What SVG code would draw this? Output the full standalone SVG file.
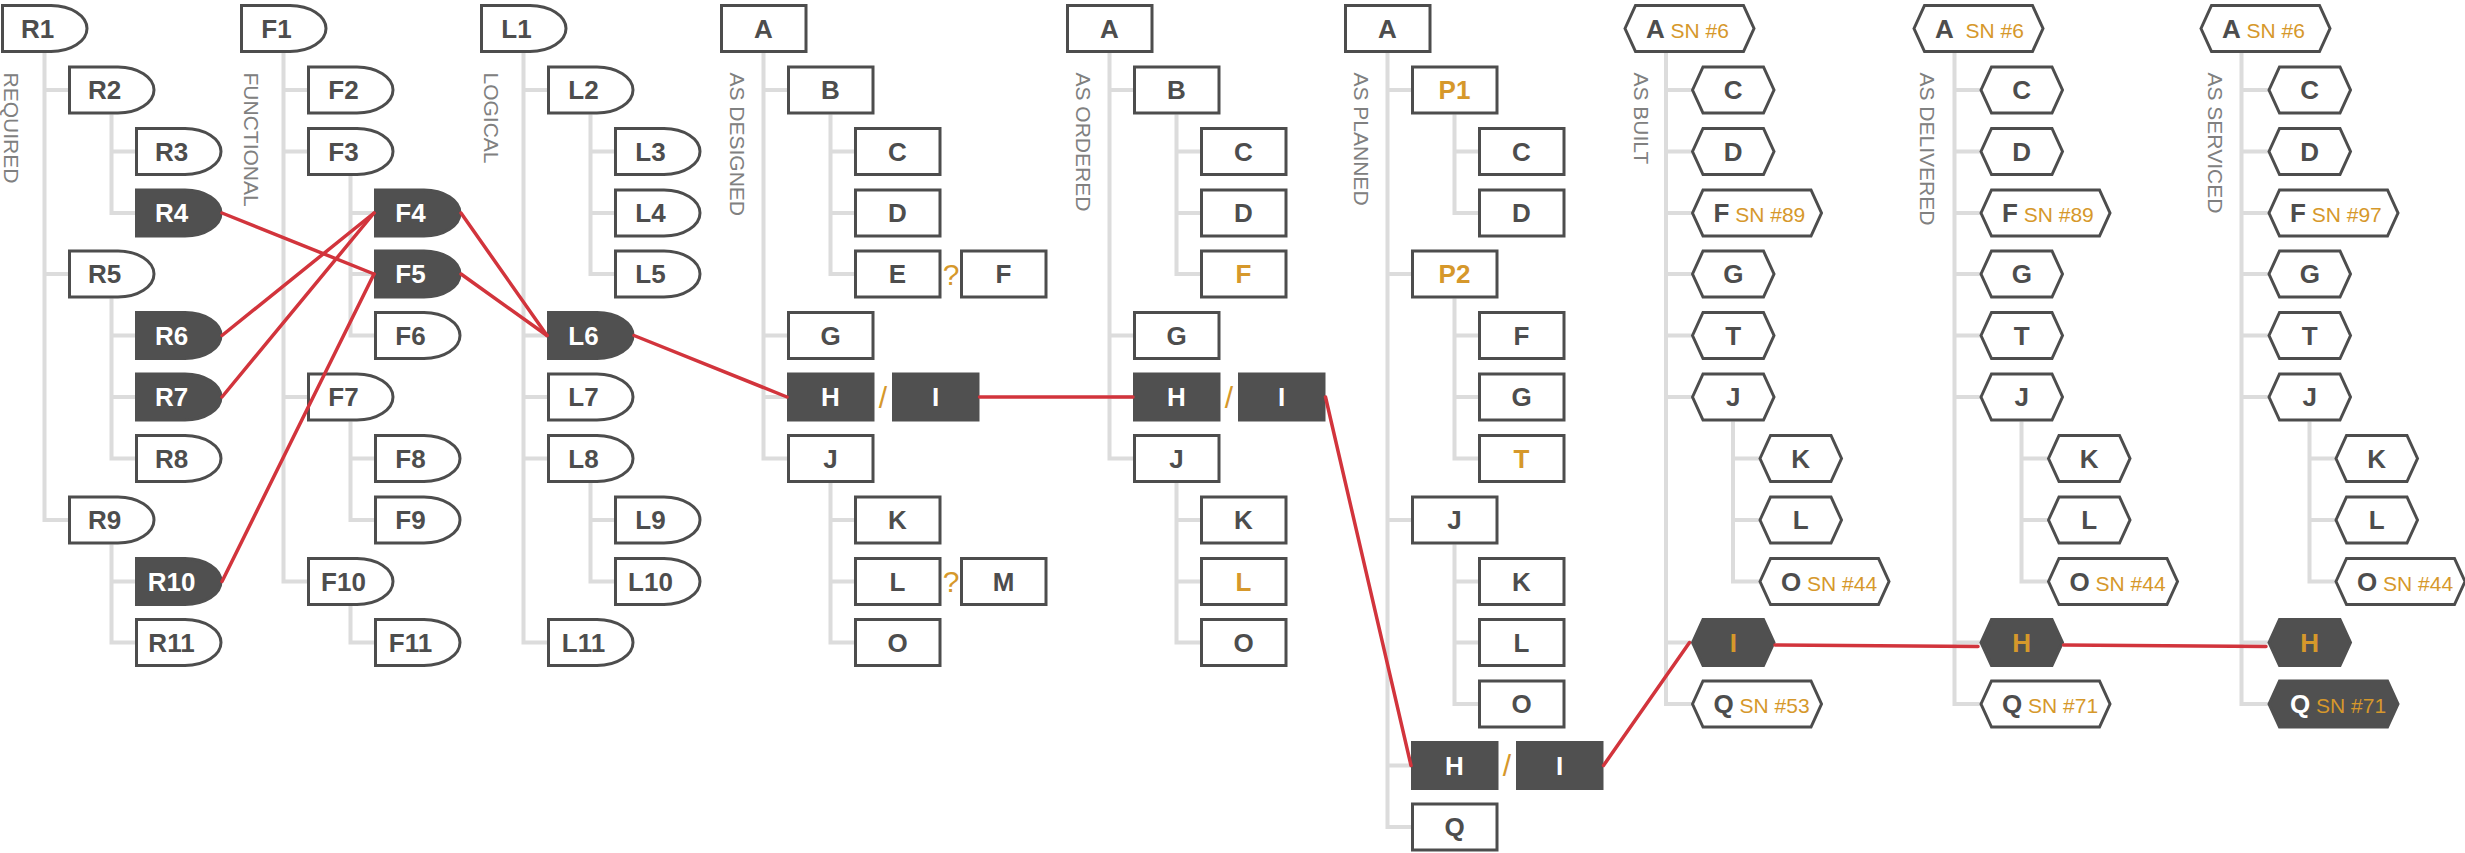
<svg xmlns="http://www.w3.org/2000/svg" width="2465" height="853" viewBox="0 0 2465 853">
<style>
.n{fill:#fff;stroke:#4d4d4d;stroke-width:3}
.d{fill:#505050;stroke:#505050;stroke-width:3}
.t{font-family:"Liberation Sans",Arial,sans-serif;font-weight:bold;font-size:26px;fill:#4d4d4d;text-anchor:middle}
.s{text-anchor:start}
.w{fill:#fff}
.o{fill:#d6982b}
.sn{font-weight:normal;font-size:21px;fill:#d6982b}
.q{font-family:"Liberation Sans",Arial,sans-serif;font-size:30px;fill:#d6982b;text-anchor:middle}
.lab{font-family:"Liberation Sans",Arial,sans-serif;font-size:21px;fill:#808080}
.tree{fill:none;stroke:#dcdcdc;stroke-width:4}
.red{fill:none;stroke:#d2343c;stroke-width:3.5;stroke-linecap:round}
</style>
<defs>
<path id="dsh" d="M1.5,-23H50A36,23 0 0 1 50,23H1.5Z"/>
<rect id="box" x="1.5" y="-23" width="84.5" height="46"/>
<polygon id="hx" points="3,0 13.5,-23 74,-23 84.5,0 74,23 13.5,23"/>
<polygon id="hxw" points="3,0 13.5,-23 121.5,-23 132,0 121.5,23 13.5,23"/>
</defs>

<g id="tree" class="tree">
<path d="M44.5,53V520H70M44.5,90H70M44.5,274H70M111.5,114.5V213H137M111.5,151.5H137M111.5,298.5V458.5H137M111.5,335.5H137M111.5,397H137M111.5,544.5V642.5H137M111.5,581.5H137"/>
<path d="M283.5,53V581.5H309M283.5,90H309M283.5,151.5H309M283.5,397H309M350.5,176V335.5H376M350.5,213H376M350.5,274H376M350.5,421.5V520H376M350.5,458.5H376M350.5,606V642.5H376"/>
<path d="M523.5,53V642.5H549M523.5,90H549M523.5,335.5H549M523.5,397H549M523.5,458.5H549M590.5,114.5V274H616M590.5,151.5H616M590.5,213H616M590.5,483V581.5H616M590.5,520H616"/>
<path d="M763.5,53V458.5H789M763.5,90H789M763.5,335.5H789M763.5,397H789M830.5,114.5V274H856M830.5,151.5H856M830.5,213H856M830.5,483V642.5H856M830.5,520H856M830.5,581.5H856"/>
<path d="M1109.5,53V458.5H1135M1109.5,90H1135M1109.5,335.5H1135M1109.5,397H1135M1176.5,114.5V274H1202M1176.5,151.5H1202M1176.5,213H1202M1176.5,483V642.5H1202M1176.5,520H1202M1176.5,581.5H1202"/>
<path d="M1387.5,53V827H1413M1387.5,90H1413M1387.5,274H1413M1387.5,520H1413M1387.5,765.5H1413M1454.5,114.5V213H1480M1454.5,151.5H1480M1454.5,298.5V458.5H1480M1454.5,335.5H1480M1454.5,397H1480M1454.5,544.5V704H1480M1454.5,581.5H1480M1454.5,642.5H1480"/>
<path d="M1666,53V704H1692M1666,90H1692M1666,151.5H1692M1666,213H1692M1666,274H1692M1666,335.5H1692M1666,397H1692M1666,642.5H1692M1733,421.5V581.5H1760M1733,458.5H1760M1733,520H1760"/>
<path d="M1954.5,53V704H1981M1954.5,90H1981M1954.5,151.5H1981M1954.5,213H1981M1954.5,274H1981M1954.5,335.5H1981M1954.5,397H1981M1954.5,642.5H1981M2021.5,421.5V581.5H2048M2021.5,458.5H2048M2021.5,520H2048"/>
<path d="M2241.5,53V704H2269M2241.5,90H2269M2241.5,151.5H2269M2241.5,213H2269M2241.5,274H2269M2241.5,335.5H2269M2241.5,397H2269M2241.5,642.5H2269M2309.5,421.5V581.5H2336M2309.5,458.5H2336M2309.5,520H2336"/>
</g>

<g id="labels" class="lab">
<text transform="translate(4,72.5) rotate(90)">REQUIRED</text>
<text transform="translate(244,72.5) rotate(90)">FUNCTIONAL</text>
<text transform="translate(484,72.5) rotate(90)">LOGICAL</text>
<text transform="translate(730,72.5) rotate(90)">AS DESIGNED</text>
<text transform="translate(1076,72.5) rotate(90)">AS ORDERED</text>
<text transform="translate(1354,72.5) rotate(90)">AS PLANNED</text>
<text transform="translate(1634,72.5) rotate(90)">AS BUILT</text>
<text transform="translate(1920,72.5) rotate(90)">AS DELIVERED</text>
<text transform="translate(2208,72.5) rotate(90)">AS SERVICED</text>
</g>

<!-- REQUIRED -->
<g id="R1" transform="translate(1,28.5)"><use href="#dsh" class="n"/><text class="t" x="36.5" y="9">R1</text></g>
<g id="R2" transform="translate(68,90)"><use href="#dsh" class="n"/><text class="t" x="36.5" y="9">R2</text></g>
<g id="R3" transform="translate(135,151.5)"><use href="#dsh" class="n"/><text class="t" x="36.5" y="9">R3</text></g>
<g id="R4" transform="translate(135,213)"><use href="#dsh" class="d"/><text class="t w" x="36.5" y="9">R4</text></g>
<g id="R5" transform="translate(68,274)"><use href="#dsh" class="n"/><text class="t" x="36.5" y="9">R5</text></g>
<g id="R6" transform="translate(135,335.5)"><use href="#dsh" class="d"/><text class="t w" x="36.5" y="9">R6</text></g>
<g id="R7" transform="translate(135,397)"><use href="#dsh" class="d"/><text class="t w" x="36.5" y="9">R7</text></g>
<g id="R8" transform="translate(135,458.5)"><use href="#dsh" class="n"/><text class="t" x="36.5" y="9">R8</text></g>
<g id="R9" transform="translate(68,520)"><use href="#dsh" class="n"/><text class="t" x="36.5" y="9">R9</text></g>
<g id="R10" transform="translate(135,581.5)"><use href="#dsh" class="d"/><text class="t w" x="36.5" y="9">R10</text></g>
<g id="R11" transform="translate(135,642.5)"><use href="#dsh" class="n"/><text class="t" x="36.5" y="9">R11</text></g>

<!-- FUNCTIONAL -->
<g id="F1" transform="translate(240,28.5)"><use href="#dsh" class="n"/><text class="t" x="36.5" y="9">F1</text></g>
<g id="F2" transform="translate(307,90)"><use href="#dsh" class="n"/><text class="t" x="36.5" y="9">F2</text></g>
<g id="F3" transform="translate(307,151.5)"><use href="#dsh" class="n"/><text class="t" x="36.5" y="9">F3</text></g>
<g id="F4" transform="translate(374,213)"><use href="#dsh" class="d"/><text class="t w" x="36.5" y="9">F4</text></g>
<g id="F5" transform="translate(374,274)"><use href="#dsh" class="d"/><text class="t w" x="36.5" y="9">F5</text></g>
<g id="F6" transform="translate(374,335.5)"><use href="#dsh" class="n"/><text class="t" x="36.5" y="9">F6</text></g>
<g id="F7" transform="translate(307,397)"><use href="#dsh" class="n"/><text class="t" x="36.5" y="9">F7</text></g>
<g id="F8" transform="translate(374,458.5)"><use href="#dsh" class="n"/><text class="t" x="36.5" y="9">F8</text></g>
<g id="F9" transform="translate(374,520)"><use href="#dsh" class="n"/><text class="t" x="36.5" y="9">F9</text></g>
<g id="F10" transform="translate(307,581.5)"><use href="#dsh" class="n"/><text class="t" x="36.5" y="9">F10</text></g>
<g id="F11" transform="translate(374,642.5)"><use href="#dsh" class="n"/><text class="t" x="36.5" y="9">F11</text></g>

<!-- LOGICAL -->
<g id="L1" transform="translate(480,28.5)"><use href="#dsh" class="n"/><text class="t" x="36.5" y="9">L1</text></g>
<g id="L2" transform="translate(547,90)"><use href="#dsh" class="n"/><text class="t" x="36.5" y="9">L2</text></g>
<g id="L3" transform="translate(614,151.5)"><use href="#dsh" class="n"/><text class="t" x="36.5" y="9">L3</text></g>
<g id="L4" transform="translate(614,213)"><use href="#dsh" class="n"/><text class="t" x="36.5" y="9">L4</text></g>
<g id="L5" transform="translate(614,274)"><use href="#dsh" class="n"/><text class="t" x="36.5" y="9">L5</text></g>
<g id="L6" transform="translate(547,335.5)"><use href="#dsh" class="d"/><text class="t w" x="36.5" y="9">L6</text></g>
<g id="L7" transform="translate(547,397)"><use href="#dsh" class="n"/><text class="t" x="36.5" y="9">L7</text></g>
<g id="L8" transform="translate(547,458.5)"><use href="#dsh" class="n"/><text class="t" x="36.5" y="9">L8</text></g>
<g id="L9" transform="translate(614,520)"><use href="#dsh" class="n"/><text class="t" x="36.5" y="9">L9</text></g>
<g id="L10" transform="translate(614,581.5)"><use href="#dsh" class="n"/><text class="t" x="36.5" y="9">L10</text></g>
<g id="L11" transform="translate(547,642.5)"><use href="#dsh" class="n"/><text class="t" x="36.5" y="9">L11</text></g>

<!-- AS DESIGNED -->
<g id="AD-A" transform="translate(720,28.5)"><use href="#box" class="n"/><text class="t" x="43.5" y="9">A</text></g>
<g id="AD-B" transform="translate(787,90)"><use href="#box" class="n"/><text class="t" x="43.5" y="9">B</text></g>
<g id="AD-C" transform="translate(854,151.5)"><use href="#box" class="n"/><text class="t" x="43.5" y="9">C</text></g>
<g id="AD-D" transform="translate(854,213)"><use href="#box" class="n"/><text class="t" x="43.5" y="9">D</text></g>
<g id="AD-E" transform="translate(854,274)"><use href="#box" class="n"/><text class="t" x="43.5" y="9">E</text></g>
<g id="AD-F" transform="translate(960,274)"><use href="#box" class="n"/><text class="t" x="43.5" y="9">F</text></g>
<g id="AD-G" transform="translate(787,335.5)"><use href="#box" class="n"/><text class="t" x="43.5" y="9">G</text></g>
<g id="AD-H" transform="translate(787,397)"><use href="#box" class="d"/><text class="t w" x="43.5" y="9">H</text></g>
<g id="AD-I" transform="translate(892,397)"><use href="#box" class="d"/><text class="t w" x="43.5" y="9">I</text></g>
<g id="AD-J" transform="translate(787,458.5)"><use href="#box" class="n"/><text class="t" x="43.5" y="9">J</text></g>
<g id="AD-K" transform="translate(854,520)"><use href="#box" class="n"/><text class="t" x="43.5" y="9">K</text></g>
<g id="AD-L" transform="translate(854,581.5)"><use href="#box" class="n"/><text class="t" x="43.5" y="9">L</text></g>
<g id="AD-M" transform="translate(960,581.5)"><use href="#box" class="n"/><text class="t" x="43.5" y="9">M</text></g>
<g id="AD-O" transform="translate(854,642.5)"><use href="#box" class="n"/><text class="t" x="43.5" y="9">O</text></g>
<g id="AD-marks" class="q"><text x="951" y="284.5">?</text><text x="951" y="592">?</text><text x="883" y="407.5">/</text></g>

<!-- AS ORDERED -->
<g id="AO-A" transform="translate(1066,28.5)"><use href="#box" class="n"/><text class="t" x="43.5" y="9">A</text></g>
<g id="AO-B" transform="translate(1133,90)"><use href="#box" class="n"/><text class="t" x="43.5" y="9">B</text></g>
<g id="AO-C" transform="translate(1200,151.5)"><use href="#box" class="n"/><text class="t" x="43.5" y="9">C</text></g>
<g id="AO-D" transform="translate(1200,213)"><use href="#box" class="n"/><text class="t" x="43.5" y="9">D</text></g>
<g id="AO-F" transform="translate(1200,274)"><use href="#box" class="n"/><text class="t o" x="43.5" y="9">F</text></g>
<g id="AO-G" transform="translate(1133,335.5)"><use href="#box" class="n"/><text class="t" x="43.5" y="9">G</text></g>
<g id="AO-H" transform="translate(1133,397)"><use href="#box" class="d"/><text class="t w" x="43.5" y="9">H</text></g>
<g id="AO-I" transform="translate(1238,397)"><use href="#box" class="d"/><text class="t w" x="43.5" y="9">I</text></g>
<g id="AO-J" transform="translate(1133,458.5)"><use href="#box" class="n"/><text class="t" x="43.5" y="9">J</text></g>
<g id="AO-K" transform="translate(1200,520)"><use href="#box" class="n"/><text class="t" x="43.5" y="9">K</text></g>
<g id="AO-L" transform="translate(1200,581.5)"><use href="#box" class="n"/><text class="t o" x="43.5" y="9">L</text></g>
<g id="AO-O" transform="translate(1200,642.5)"><use href="#box" class="n"/><text class="t" x="43.5" y="9">O</text></g>
<g id="AO-marks" class="q"><text x="1229" y="407.5">/</text></g>

<!-- AS PLANNED -->
<g id="AP-A" transform="translate(1344,28.5)"><use href="#box" class="n"/><text class="t" x="43.5" y="9">A</text></g>
<g id="AP-P1" transform="translate(1411,90)"><use href="#box" class="n"/><text class="t o" x="43.5" y="9">P1</text></g>
<g id="AP-C" transform="translate(1478,151.5)"><use href="#box" class="n"/><text class="t" x="43.5" y="9">C</text></g>
<g id="AP-D" transform="translate(1478,213)"><use href="#box" class="n"/><text class="t" x="43.5" y="9">D</text></g>
<g id="AP-P2" transform="translate(1411,274)"><use href="#box" class="n"/><text class="t o" x="43.5" y="9">P2</text></g>
<g id="AP-F" transform="translate(1478,335.5)"><use href="#box" class="n"/><text class="t" x="43.5" y="9">F</text></g>
<g id="AP-G" transform="translate(1478,397)"><use href="#box" class="n"/><text class="t" x="43.5" y="9">G</text></g>
<g id="AP-T" transform="translate(1478,458.5)"><use href="#box" class="n"/><text class="t o" x="43.5" y="9">T</text></g>
<g id="AP-J" transform="translate(1411,520)"><use href="#box" class="n"/><text class="t" x="43.5" y="9">J</text></g>
<g id="AP-K" transform="translate(1478,581.5)"><use href="#box" class="n"/><text class="t" x="43.5" y="9">K</text></g>
<g id="AP-L" transform="translate(1478,642.5)"><use href="#box" class="n"/><text class="t" x="43.5" y="9">L</text></g>
<g id="AP-O" transform="translate(1478,704)"><use href="#box" class="n"/><text class="t" x="43.5" y="9">O</text></g>
<g id="AP-H" transform="translate(1411,765.5)"><use href="#box" class="d"/><text class="t w" x="43.5" y="9">H</text></g>
<g id="AP-I" transform="translate(1516,765.5)"><use href="#box" class="d"/><text class="t w" x="43.5" y="9">I</text></g>
<g id="AP-Q" transform="translate(1411,827)"><use href="#box" class="n"/><text class="t" x="43.5" y="9">Q</text></g>
<g id="AP-marks" class="q"><text x="1507" y="776">/</text></g>

<!-- AS BUILT -->
<g id="AB-A" transform="translate(1622,28.5)"><use href="#hxw" class="n"/><text class="t s" x="24" y="9">A<tspan class="sn"> SN #6</tspan></text></g>
<g id="AB-C" transform="translate(1689.5,90)"><use href="#hx" class="n"/><text class="t" x="43.75" y="9">C</text></g>
<g id="AB-D" transform="translate(1689.5,151.5)"><use href="#hx" class="n"/><text class="t" x="43.75" y="9">D</text></g>
<g id="AB-F" transform="translate(1689.5,213)"><use href="#hxw" class="n"/><text class="t s" x="24" y="9">F<tspan class="sn"> SN #89</tspan></text></g>
<g id="AB-G" transform="translate(1689.5,274)"><use href="#hx" class="n"/><text class="t" x="43.75" y="9">G</text></g>
<g id="AB-T" transform="translate(1689.5,335.5)"><use href="#hx" class="n"/><text class="t" x="43.75" y="9">T</text></g>
<g id="AB-J" transform="translate(1689.5,397)"><use href="#hx" class="n"/><text class="t" x="43.75" y="9">J</text></g>
<g id="AB-K" transform="translate(1757,458.5)"><use href="#hx" class="n"/><text class="t" x="43.75" y="9">K</text></g>
<g id="AB-L" transform="translate(1757,520)"><use href="#hx" class="n"/><text class="t" x="43.75" y="9">L</text></g>
<g id="AB-O" transform="translate(1757,581.5)"><use href="#hxw" class="n"/><text class="t s" x="24" y="9">O<tspan class="sn"> SN #44</tspan></text></g>
<g id="AB-I" transform="translate(1689.5,642.5)"><use href="#hx" class="d"/><text class="t o" x="43.75" y="9">I</text></g>
<g id="AB-Q" transform="translate(1689.5,704)"><use href="#hxw" class="n"/><text class="t s" x="24" y="9">Q<tspan class="sn"> SN #53</tspan></text></g>

<!-- AS DELIVERED -->
<g id="ADL-A" transform="translate(1911,28.5)"><use href="#hxw" class="n"/><text class="t s" x="24" y="9">A<tspan class="sn" dx="6"> SN #6</tspan></text></g>
<g id="ADL-C" transform="translate(1978,90)"><use href="#hx" class="n"/><text class="t" x="43.75" y="9">C</text></g>
<g id="ADL-D" transform="translate(1978,151.5)"><use href="#hx" class="n"/><text class="t" x="43.75" y="9">D</text></g>
<g id="ADL-F" transform="translate(1978,213)"><use href="#hxw" class="n"/><text class="t s" x="24" y="9">F<tspan class="sn"> SN #89</tspan></text></g>
<g id="ADL-G" transform="translate(1978,274)"><use href="#hx" class="n"/><text class="t" x="43.75" y="9">G</text></g>
<g id="ADL-T" transform="translate(1978,335.5)"><use href="#hx" class="n"/><text class="t" x="43.75" y="9">T</text></g>
<g id="ADL-J" transform="translate(1978,397)"><use href="#hx" class="n"/><text class="t" x="43.75" y="9">J</text></g>
<g id="ADL-K" transform="translate(2045.5,458.5)"><use href="#hx" class="n"/><text class="t" x="43.75" y="9">K</text></g>
<g id="ADL-L" transform="translate(2045.5,520)"><use href="#hx" class="n"/><text class="t" x="43.75" y="9">L</text></g>
<g id="ADL-O" transform="translate(2045.5,581.5)"><use href="#hxw" class="n"/><text class="t s" x="24" y="9">O<tspan class="sn"> SN #44</tspan></text></g>
<g id="ADL-H" transform="translate(1978,642.5)"><use href="#hx" class="d"/><text class="t o" x="43.75" y="9">H</text></g>
<g id="ADL-Q" transform="translate(1978,704)"><use href="#hxw" class="n"/><text class="t s" x="24" y="9">Q<tspan class="sn"> SN #71</tspan></text></g>

<!-- AS SERVICED -->
<g id="AS-A" transform="translate(2198,28.5)"><use href="#hxw" class="n"/><text class="t s" x="24" y="9">A<tspan class="sn"> SN #6</tspan></text></g>
<g id="AS-C" transform="translate(2266,90)"><use href="#hx" class="n"/><text class="t" x="43.75" y="9">C</text></g>
<g id="AS-D" transform="translate(2266,151.5)"><use href="#hx" class="n"/><text class="t" x="43.75" y="9">D</text></g>
<g id="AS-F" transform="translate(2266,213)"><use href="#hxw" class="n"/><text class="t s" x="24" y="9">F<tspan class="sn"> SN #97</tspan></text></g>
<g id="AS-G" transform="translate(2266,274)"><use href="#hx" class="n"/><text class="t" x="43.75" y="9">G</text></g>
<g id="AS-T" transform="translate(2266,335.5)"><use href="#hx" class="n"/><text class="t" x="43.75" y="9">T</text></g>
<g id="AS-J" transform="translate(2266,397)"><use href="#hx" class="n"/><text class="t" x="43.75" y="9">J</text></g>
<g id="AS-K" transform="translate(2333,458.5)"><use href="#hx" class="n"/><text class="t" x="43.75" y="9">K</text></g>
<g id="AS-L" transform="translate(2333,520)"><use href="#hx" class="n"/><text class="t" x="43.75" y="9">L</text></g>
<g id="AS-O" transform="translate(2333,581.5)"><use href="#hxw" class="n"/><text class="t s" x="24" y="9">O<tspan class="sn"> SN #44</tspan></text></g>
<g id="AS-H" transform="translate(2266,642.5)"><use href="#hx" class="d"/><text class="t o" x="43.75" y="9">H</text></g>
<g id="AS-Q" transform="translate(2266,704)"><use href="#hxw" class="d"/><text class="t s w" x="24" y="9">Q<tspan class="sn"> SN #71</tspan></text></g>

<g id="connectors" class="red">
<path d="M222,213L374,274"/>
<path d="M222,335.5L374,213"/>
<path d="M222,397L374,213"/>
<path d="M222,581.5L374,274"/>
<path d="M461,213L547,335.5"/>
<path d="M461,274L547,335.5"/>
<path d="M634,335.5L787,397"/>
<path d="M979.5,397H1133"/>
<path d="M1325.5,397L1411,765.5"/>
<path d="M1603.5,765.5L1689.5,642.5"/>
<path d="M1775,645L1978,646.5"/>
<path d="M2063.5,645L2266,646.5"/>
</g>
</svg>
